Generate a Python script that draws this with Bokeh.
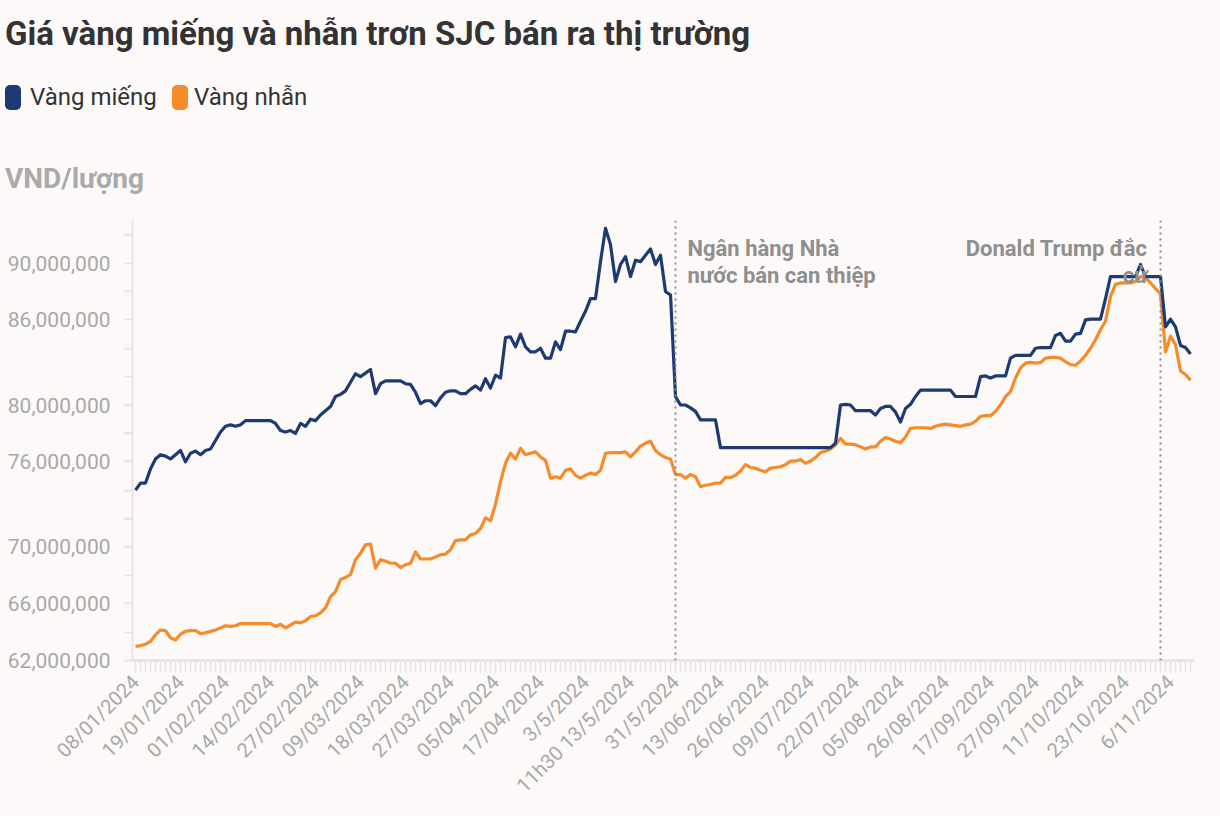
from math import pi
from bokeh.plotting import figure
from bokeh.models import Span, Label, FixedTicker, Div, Range1d
from bokeh.layouts import column
from bokeh.embed import file_html
from bokeh.resources import INLINE

# ---------------- data ----------------
title_text = "Giá vàng miếng và nhẫn trơn SJC bán ra thị trường"
series_names = ["Vàng miếng", "Vàng nhẫn"]
unit_label = "VND/lượng"

x_tick_labels = ["08/01/2024", "19/01/2024", "01/02/2024", "14/02/2024", "27/02/2024",
                 "09/03/2024", "18/03/2024", "27/03/2024", "05/04/2024", "17/04/2024",
                 "3/5/2024", "11h30 13/5/2024", "31/5/2024", "13/06/2024", "26/06/2024",
                 "09/07/2024", "22/07/2024", "05/08/2024", "26/08/2024", "17/09/2024",
                 "27/09/2024", "11/10/2024", "23/10/2024", "6/11/2024"]
x_label_every = 9

# prices, million VND per tael
vang_mieng = [
    74.0, 74.5, 74.5, 75.5, 76.2, 76.5, 76.4, 76.2, 76.5, 76.8,
    76.0, 76.6, 76.75, 76.5, 76.8, 76.9, 77.5, 78.1, 78.5, 78.6,
    78.5, 78.6, 78.9, 78.9, 78.9, 78.9, 78.9, 78.9, 78.7, 78.2,
    78.1, 78.2, 78.0, 78.7, 78.5, 79.0, 78.9, 79.3, 79.6, 79.9,
    80.6, 80.75, 81.0, 81.6, 82.2, 82.0, 82.25, 82.5, 80.8, 81.5,
    81.7, 81.7, 81.7, 81.7, 81.5, 81.45, 80.9, 80.1, 80.3, 80.3,
    79.95, 80.5, 80.9, 81.0, 81.0, 80.8, 80.8, 81.1, 81.35, 81.05,
    81.85, 81.2, 82.1, 81.9, 84.75, 84.8, 84.1, 85.0, 84.1, 83.75,
    83.75, 84.0, 83.3, 83.3, 84.45, 83.9, 85.2, 85.2, 85.15, 85.9,
    86.6, 87.5, 87.5, 90.1, 92.45, 91.3, 88.7, 89.9, 90.45, 89.05,
    90.2, 90.1, 90.55, 91.0, 89.9, 90.55, 88.0, 87.75, 80.6, 80.0,
    80.0, 79.8, 79.55, 78.95, 78.95, 78.95, 78.95, 77.0, 77.0, 77.0,
    77.0, 77.0, 77.0, 77.0, 77.0, 77.0, 77.0, 77.0, 77.0, 77.0,
    77.0, 77.0, 77.0, 77.0, 77.0, 77.0, 77.0, 77.0, 77.0, 77.0,
    77.3, 80.0, 80.05, 80.0, 79.6, 79.6, 79.6, 79.6, 79.3, 79.75,
    79.9, 79.9, 79.5, 78.8, 79.75, 80.05, 80.6, 81.05, 81.05, 81.05,
    81.05, 81.05, 81.05, 81.05, 80.6, 80.6, 80.6, 80.6, 80.6, 82.0,
    82.05, 81.9, 82.05, 82.05, 82.05, 83.3, 83.5, 83.5, 83.5, 83.5,
    84.0, 84.05, 84.05, 84.05, 84.9, 85.05, 84.5, 84.5, 85.0, 85.05,
    86.0, 86.05, 86.05, 86.05, 87.5, 89.05, 89.05, 89.05, 89.05, 89.05,
    89.05, 89.9, 89.05, 89.05, 89.05, 89.05, 85.5, 86.05, 85.5, 84.2,
    84.05, 83.6,
]
vang_nhan = [
    63.0, 63.05, 63.15, 63.35, 63.8, 64.15, 64.1, 63.6, 63.45, 63.85,
    64.05, 64.1, 64.1, 63.9, 63.95, 64.05, 64.15, 64.3, 64.45, 64.4,
    64.45, 64.6, 64.6, 64.6, 64.6, 64.6, 64.6, 64.6, 64.4, 64.55,
    64.3, 64.5, 64.7, 64.65, 64.8, 65.1, 65.15, 65.35, 65.7, 66.5,
    66.85, 67.7, 67.85, 68.05, 69.1, 69.55, 70.15, 70.2, 68.5, 69.1,
    69.0, 68.85, 68.85, 68.55, 68.75, 68.85, 69.65, 69.15, 69.15, 69.15,
    69.3, 69.45, 69.5, 69.8, 70.45, 70.5, 70.5, 70.85, 70.95, 71.3,
    72.05, 71.85, 73.0, 74.6, 75.9, 76.6, 76.2, 76.95, 76.5, 76.6,
    76.7, 76.35, 76.1, 74.85, 74.95, 74.85, 75.4, 75.5, 75.05, 74.85,
    75.05, 75.2, 75.1, 75.4, 76.6, 76.65, 76.65, 76.65, 76.7, 76.35,
    76.7, 77.1, 77.3, 77.45, 76.8, 76.5, 76.3, 76.2, 75.1, 75.1,
    74.85, 75.1, 74.95, 74.25, 74.35, 74.4, 74.5, 74.5, 74.9, 74.9,
    75.05, 75.35, 75.8, 75.6, 75.55, 75.4, 75.3, 75.55, 75.6, 75.65,
    75.8, 76.05, 76.05, 76.15, 75.9, 76.05, 76.3, 76.65, 76.75, 76.9,
    77.2, 77.65, 77.25, 77.25, 77.2, 77.05, 76.9, 77.05, 77.05, 77.45,
    77.7, 77.6, 77.45, 77.35, 77.75, 78.35, 78.4, 78.4, 78.4, 78.35,
    78.5, 78.6, 78.65, 78.6, 78.55, 78.5, 78.6, 78.65, 78.85, 79.2,
    79.25, 79.25, 79.55, 80.0, 80.6, 80.95, 81.9, 82.6, 82.95, 83.0,
    82.95, 83.0, 83.3, 83.35, 83.35, 83.3, 83.05, 82.85, 82.8, 83.1,
    83.5, 84.0, 84.6, 85.3, 85.9, 87.65, 88.5, 88.6, 88.6, 88.6,
    88.7, 89.05, 88.95, 88.6, 88.2, 87.85, 83.75, 84.85, 84.25, 82.4,
    82.15, 81.75,
]

y_ticks = [62, 64, 66, 68, 70, 72, 74, 76, 78, 80, 82, 84, 86, 88, 90, 92]
y_labelled = [62, 66, 70, 76, 80, 86, 90]
y_labels = ["62,000,000", "66,000,000", "70,000,000", "76,000,000",
            "80,000,000", "86,000,000", "90,000,000"]

event_index = [108, 205]
event_text = [["Ngân hàng Nhà", "nước bán can thiệp"], ["Donald Trump đắc", "cử"]]

# ---------------- style ----------------
FONT = "Roboto"
BG = "#fcf9f8"
C_MIENG = "#1d3b72"
C_NHAN = "#f68b2a"
AXIS_C = "#e8e4e5"
LABEL_C = "#a8a8a8"

idx = list(range(len(vang_mieng)))

p = figure(width=1204, height=608, output_backend="svg", toolbar_location=None,
           x_range=Range1d(-0.6, 211.8), y_range=Range1d(62, 93),
           min_border_left=132, min_border_right=10, min_border_top=18,
           min_border_bottom=150, background_fill_color=BG, border_fill_color=BG)
p.outline_line_color = None
p.xgrid.visible = False
p.ygrid.visible = False

p.line(idx, vang_nhan, line_color=C_NHAN, line_width=3.2, line_join="round")
p.line(idx, vang_mieng, line_color=C_MIENG, line_width=3.2, line_join="round")

# x axis
major_x = [i * x_label_every for i in range(len(x_tick_labels))]
p.xaxis.ticker = FixedTicker(ticks=major_x, minor_ticks=idx)
p.xaxis.major_label_overrides = {t: l for t, l in zip(major_x, x_tick_labels)}
p.xaxis.major_label_orientation = pi / 4
p.xaxis.axis_line_color = AXIS_C
p.xaxis.axis_line_width = 3
p.xaxis.major_tick_line_color = AXIS_C
p.xaxis.minor_tick_line_color = AXIS_C
p.xaxis.major_tick_line_width = 1.5
p.xaxis.minor_tick_line_width = 1.5
p.xaxis.major_tick_in = 0
p.xaxis.major_tick_out = 12
p.xaxis.minor_tick_in = 0
p.xaxis.minor_tick_out = 12
p.xaxis.major_label_standoff = 6
p.xaxis.major_label_text_font = FONT
p.xaxis.major_label_text_font_size = "20px"
p.xaxis.major_label_text_color = LABEL_C

# y axis
p.yaxis.ticker = FixedTicker(ticks=y_ticks, minor_ticks=[])
ov = {t: "" for t in y_ticks}
ov.update({t: l for t, l in zip(y_labelled, y_labels)})
p.yaxis.major_label_overrides = ov
p.yaxis.axis_line_color = AXIS_C
p.yaxis.axis_line_width = 2
p.yaxis.major_tick_line_color = AXIS_C
p.yaxis.major_tick_line_width = 2
p.yaxis.major_tick_in = 0
p.yaxis.major_tick_out = 8
p.yaxis.minor_tick_line_color = None
p.yaxis.major_label_standoff = 14
p.yaxis.major_label_text_font = FONT
p.yaxis.major_label_text_font_size = "21px"
p.yaxis.major_label_text_color = LABEL_C

# event markers
for loc in event_index:
    p.add_layout(Span(location=loc, dimension="height", line_color="#8a8a8a",
                      line_width=2, line_dash="2 4"))

ann_y = [91.0, 89.1]
for k, line in enumerate(event_text[0]):
    p.add_layout(Label(x=event_index[0] + 2.4, y=ann_y[k], text=line,
                       text_font=FONT, text_font_size="22px", text_font_style="bold",
                       text_color="#8f8f8f", text_align="left", text_baseline="alphabetic"))
for k, line in enumerate(event_text[1]):
    p.add_layout(Label(x=event_index[1] - 2.6, y=ann_y[k], text=line,
                       text_font=FONT, text_font_size="22px", text_font_style="bold",
                       text_color="#8f8f8f", text_align="right", text_baseline="alphabetic"))

header_html = f"""
<div style="position:relative;width:1204px;height:192px;font-family:{FONT},sans-serif;background:{BG};">
  <div style="position:absolute;left:0px;top:12px;font-size:33px;font-weight:700;color:#333333;line-height:1;white-space:nowrap;">{title_text}</div>
  <div style="position:absolute;left:0px;top:80px;width:16px;height:25px;border-radius:5px;background:{C_MIENG};"></div>
  <div style="position:absolute;left:25px;top:80px;font-size:24px;color:#333333;line-height:1;white-space:nowrap;">{series_names[0]}</div>
  <div style="position:absolute;left:167px;top:80px;width:16px;height:25px;border-radius:5px;background:{C_NHAN};"></div>
  <div style="position:absolute;left:189px;top:80px;font-size:24px;color:#333333;line-height:1;white-space:nowrap;">{series_names[1]}</div>
  <div style="position:absolute;left:0px;top:160px;font-size:28px;font-weight:700;color:#aaaaaa;line-height:1;white-space:nowrap;">{unit_label}</div>
</div>
"""
header = Div(text=header_html, width=1204, height=192)

layout = column(header, p, spacing=0)
html = file_html(layout, INLINE, title="Giá vàng")
html = html.replace("<body>", f'<body style="background:{BG};">')
open("out.html", "w").write(html)
